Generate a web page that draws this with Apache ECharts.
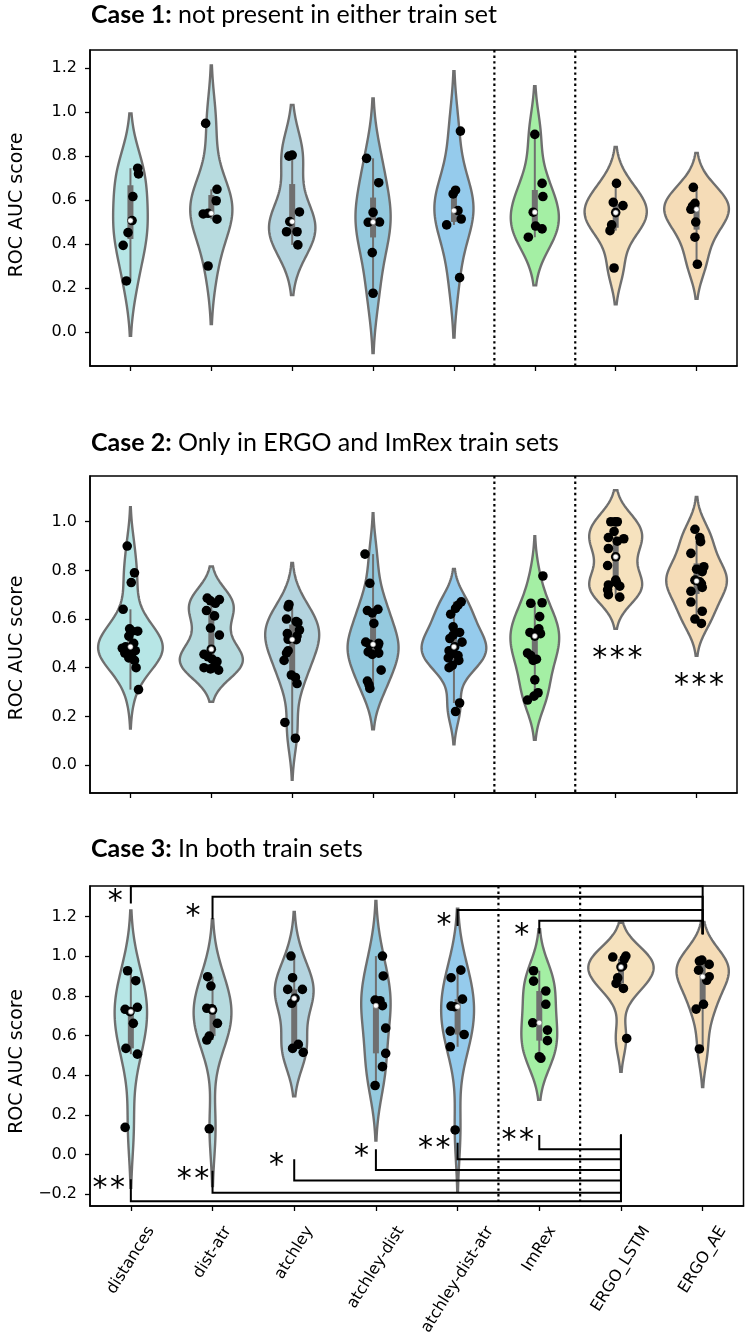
<!DOCTYPE html>
<html><head><meta charset="utf-8">
<script src="https://cdn.jsdelivr.net/npm/echarts@6/dist/echarts.min.js"></script>
<style>html,body{margin:0;padding:0;background:#fff}#c{width:748px;height:1339px}</style>
</head><body><div id="c"></div>
<script>
// ---------------- data ----------------
const categories = ['distances','dist-atr','atchley','atchley-dist','atchley-dist-atr','ImRex','ERGO_LSTM','ERGO_AE'];

const titlesBold = ['Case 1:','Case 2:','Case 3:'];
const titlesRest = [' not present in either train set',' Only in ERGO and ImRex train sets',' In both train sets'];

const yTicks1 = [0.0,0.2,0.4,0.6,0.8,1.0,1.2];
const yTicks2 = [0.0,0.2,0.4,0.6,0.8,1.0];
const yTicks3 = [-0.2,0.0,0.2,0.4,0.6,0.8,1.0,1.2];

// Case 1 scores (per category) and horizontal jitter (fraction of category band)
const case1Scores = [
  [0.745,0.719,0.616,0.507,0.452,0.394,0.232],
  [0.949,0.649,0.597,0.540,0.537,0.513,0.300],
  [0.805,0.800,0.546,0.502,0.456,0.456,0.396],
  [0.790,0.679,0.544,0.500,0.499,0.361,0.176],
  [0.914,0.645,0.628,0.552,0.514,0.487,0.247],
  [0.899,0.676,0.616,0.545,0.482,0.469,0.431],
  [0.676,0.590,0.575,0.543,0.487,0.461,0.291],
  [0.658,0.585,0.572,0.558,0.500,0.431,0.308]
];
const case1Jitter = [
  [0.09,0.10,0.03,0.02,-0.03,-0.09,-0.05],
  [-0.07,0.07,0.06,-0.04,-0.10,0.07,-0.04],
  [0.00,-0.04,0.09,-0.03,-0.07,0.06,0.07],
  [-0.08,0.07,0.00,0.08,-0.06,-0.01,0.00],
  [0.08,0.02,-0.01,0.05,0.09,-0.09,0.07],
  [0.00,0.09,0.10,-0.02,0.01,0.09,-0.08],
  [0.01,-0.03,0.09,0.00,-0.05,-0.07,-0.02],
  [-0.04,-0.02,-0.05,-0.07,-0.01,-0.02,0.01]
];

const case2Scores = [
  [0.90,0.79,0.75,0.64,0.56,0.55,0.55,0.53,0.50,0.486,0.48,0.47,0.47,0.46,0.45,0.44,0.43,0.40,0.31],
  [0.686,0.68,0.675,0.665,0.635,0.613,0.563,0.534,0.476,0.455,0.445,0.435,0.425,0.41,0.40,0.395,0.39],
  [0.66,0.65,0.60,0.59,0.585,0.555,0.54,0.53,0.517,0.515,0.47,0.46,0.43,0.37,0.36,0.335,0.175,0.11],
  [0.867,0.747,0.64,0.635,0.625,0.582,0.505,0.50,0.496,0.49,0.465,0.46,0.455,0.39,0.345,0.33,0.315],
  [0.671,0.657,0.644,0.62,0.568,0.545,0.534,0.52,0.505,0.486,0.47,0.46,0.45,0.44,0.43,0.41,0.40,0.255,0.22],
  [0.777,0.667,0.665,0.61,0.56,0.555,0.545,0.54,0.53,0.46,0.45,0.435,0.43,0.35,0.297,0.283,0.267],
  [1.0,1.0,1.0,0.96,0.935,0.93,0.92,0.89,0.856,0.82,0.76,0.75,0.74,0.735,0.72,0.70,0.69],
  [0.969,0.935,0.918,0.87,0.815,0.805,0.795,0.76,0.753,0.745,0.73,0.714,0.67,0.632,0.60,0.582]
];
const case2Jitter = [
  [-0.04,0.05,0.01,-0.09,-0.01,0.09,0.02,-0.02,0.04,-0.06,-0.10,-0.04,0.06,-0.07,0.01,-0.02,0.05,0.07,0.10],
  [-0.05,0.10,-0.01,0.05,-0.06,0.04,-0.01,0.10,0.00,-0.09,-0.04,0.01,0.07,0.05,-0.09,-0.01,0.09],
  [-0.04,-0.05,-0.07,0.05,0.07,0.09,-0.06,0.06,-0.05,0.05,-0.05,-0.07,-0.10,-0.01,0.04,0.06,-0.09,0.04],
  [-0.10,-0.04,0.06,-0.07,-0.01,0.01,-0.09,0.07,-0.04,0.06,-0.06,0.07,-0.01,0.10,-0.07,-0.05,-0.04],
  [0.09,0.05,0.02,-0.04,-0.01,0.07,-0.01,-0.05,0.10,0.01,-0.06,-0.01,0.05,-0.07,0.06,-0.02,-0.06,0.07,0.02],
  [0.10,0.09,-0.05,0.06,0.05,0.04,-0.06,0.07,0.00,-0.09,-0.05,0.02,-0.02,0.00,0.04,-0.01,-0.09],
  [-0.06,-0.01,0.02,-0.02,-0.09,0.10,0.02,-0.09,0.00,-0.10,0.00,0.01,-0.09,0.05,-0.10,-0.09,0.05],
  [-0.02,0.04,0.05,-0.07,0.09,0.00,0.07,-0.02,0.04,0.06,0.07,-0.07,-0.07,0.07,-0.02,0.06]
];

const case3Scores = [
  [0.926,0.876,0.742,0.732,0.720,0.661,0.535,0.506,0.137],
  [0.896,0.849,0.737,0.735,0.728,0.661,0.597,0.577,0.130],
  [1.000,0.891,0.832,0.832,0.787,0.762,0.555,0.535,0.515],
  [1.000,0.900,0.778,0.775,0.750,0.637,0.510,0.443,0.348],
  [0.929,0.891,0.783,0.748,0.745,0.622,0.605,0.543,0.124],
  [0.926,0.874,0.824,0.757,0.664,0.627,0.574,0.493,0.485],
  [1.000,0.995,0.985,0.950,0.945,0.890,0.862,0.837,0.585],
  [0.980,0.975,0.958,0.929,0.896,0.878,0.757,0.733,0.532]
];
const case3Jitter = [
  [-0.04,0.06,0.08,-0.07,-0.01,0.03,-0.06,0.08,-0.07],
  [-0.06,-0.02,-0.07,-0.01,0.00,0.06,-0.04,-0.07,-0.04],
  [-0.04,-0.02,-0.08,0.10,0.01,-0.03,0.05,-0.02,0.11],
  [0.08,0.09,-0.01,0.05,0.08,0.12,0.12,0.08,-0.01],
  [0.04,-0.08,0.06,-0.08,-0.04,-0.09,0.08,-0.09,-0.03],
  [-0.07,-0.07,0.08,0.08,-0.08,0.10,0.10,0.00,0.02],
  [0.06,-0.10,0.04,0.02,0.00,-0.04,-0.06,0.03,0.07],
  [-0.01,-0.04,0.08,-0.05,0.08,0.05,0.01,-0.08,-0.04]
];

// significance brackets: [leftCategory, rightCategory, barValue, leftTipValue, rightTipValue]
const case3BracketsTop = [
  [0,7,1.352,1.265,1.110],
  [1,7,1.299,1.185,1.110],
  [4,7,1.232,1.151,1.110],
  [5,7,1.178,1.114,1.110]
];
const case3BracketsBottom = [
  [0,6,-0.235,-0.124,0.100],
  [1,6,-0.192,-0.081,0.100],
  [2,6,-0.131,-0.024,0.100],
  [3,6,-0.078,0.027,0.100],
  [4,6,-0.024,0.060,0.100],
  [5,6,0.027,0.099,0.100]
];
// star annotations: [category, offset (fraction of band), value, text]
const case2Stars = [[6,0.02,0.466,'***'],[7,0.03,0.356,'***']];
const case3Stars = [
  [0,-0.19,1.307,'*'],[1,-0.24,1.232,'*'],[4,-0.165,1.190,'*'],[5,-0.215,1.140,'*'],
  [0,-0.27,-0.136,'**'],[1,-0.24,-0.091,'**'],[2,-0.216,-0.019,'*'],[3,-0.177,0.023,'*'],
  [4,-0.286,0.065,'**'],[5,-0.263,0.107,'**']
];

// ---------------- styles / layout ----------------
const baseColors = ['#AFEEEE','#B0E0E6','#ADD8E6','#87CEEB','#87CEFA','#98FB98','#FFE4B5','#FFDEAD'];
const gridBoxes = [
  {left:85, top:50, width:652, height:316},
  {left:85, top:476, width:652, height:317},
  {left:84.5, top:886, width:659, height:320}
];
const yRanges = [[-0.155,1.283],[-0.115,1.188],[-0.259,1.353]];
const titleTops = [0, 428, 834];
const titleSizes = [25, 25, 25];
const namePads = [[0,0,0,6],[0,27,0,0],[0,31,0,0]];

function rgb2hls(r,g,b){const mx=Math.max(r,g,b),mn=Math.min(r,g,b);const l=(mx+mn)/2;let h=0,s=0;
  if(mx!==mn){const d=mx-mn;s=l>0.5?d/(2-mx-mn):d/(mx+mn);
    if(mx===r)h=((g-b)/d)/6;else if(mx===g)h=((b-r)/d+2)/6;else h=((r-g)/d+4)/6;if(h<0)h+=1;}
  return [h,l,s];}
function hls2rgb(h,l,s){if(s===0)return[l,l,l];const q=l<0.5?l*(1+s):l+s-l*s,p=2*l-q;
  const f=t=>{if(t<0)t+=1;if(t>1)t-=1;if(t<1/6)return p+(q-p)*6*t;if(t<1/2)return q;if(t<2/3)return p+(q-p)*(2/3-t)*6;return p;};
  return [f(h+1/3),f(h),f(h-1/3)];}
function toHex(c){return '#'+c.map(v=>Math.round(v*255).toString(16).padStart(2,'0')).join('');}
const hlsList = baseColors.map(hx=>rgb2hls(parseInt(hx.slice(1,3),16)/255,parseInt(hx.slice(3,5),16)/255,parseInt(hx.slice(5,7),16)/255));
const fillColors = hlsList.map(([h,l,s])=>toHex(hls2rgb(h,l,s*0.75)));
const grayLum = Math.min(...hlsList.map(x=>x[1]))*0.6;
const gray = toHex([grayLum,grayLum,grayLum]);

// ---------------- stats ----------------
function percentile(sorted,p){const idx=(sorted.length-1)*p;const lo=Math.floor(idx),hi=Math.ceil(idx);return sorted[lo]+(sorted[hi]-sorted[lo])*(idx-lo);}
function kde(vals){
  const n=vals.length;const mean=vals.reduce((a,b)=>a+b,0)/n;
  const sd=Math.sqrt(vals.reduce((a,b)=>a+(b-mean)*(b-mean),0)/(n-1));
  const bw=sd*Math.pow(n,-0.2);
  const lo=Math.min(...vals)-2*bw,hi=Math.max(...vals)+2*bw;
  const sup=[],dens=[];
  for(let i=0;i<100;i++){const y=lo+(hi-lo)*i/99;let d=0;for(const v of vals){const z=(y-v)/bw;d+=Math.exp(-0.5*z*z);}
    sup.push(y);dens.push(d/(n*bw*Math.sqrt(2*Math.PI)));}
  return {sup,dens};
}
function boxStats(vals){
  const s=[...vals].sort((a,b)=>a-b);
  const q25=percentile(s,0.25),q50=percentile(s,0.5),q75=percentile(s,0.75);
  const lim=1.5*(q75-q25);
  const h1=Math.min(...s.filter(v=>v>=q25-lim)),h2=Math.max(...s.filter(v=>v<=q75+lim));
  return [q25,q50,q75,h1,h2];
}

const allScores=[case1Scores,case2Scores,case3Scores];
const allJitter=[case1Jitter,case2Jitter,case3Jitter];
const kdes=allScores.map(p=>p.map(kde));
const maxD=kdes.map(p=>Math.max(...p.map(k=>Math.max(...k.dens))));
const boxes=allScores.map(p=>p.map(boxStats));

const mctx=document.createElement('canvas').getContext('2d');
function textW(t,font){mctx.font=font;return mctx.measureText(t).width;}

// ---------------- render helpers ----------------
function violinRender(pi){
  return function(params,api){
    const k=api.value(0);const kd=kdes[pi][k];
    const bw=api.size([1,0])[0];const cx=api.coord([k,0])[0];
    const right=[],left=[];
    for(let i=0;i<kd.sup.length;i++){const y=api.coord([k,kd.sup[i]])[1];const w=kd.dens[i]/maxD[pi]*0.4*bw;right.push([cx+w,y]);left.unshift([cx-w,y]);}
    return {type:'polygon',shape:{points:right.concat(left)},style:{fill:fillColors[k],stroke:gray,lineWidth:2.4}};
  };
}
function boxRender(pi){
  return function(params,api){
    const k=api.value(0);const [q25,q50,q75,h1,h2]=boxes[pi][k];
    const cx=api.coord([k,0])[0];
    return {type:'group',children:[
      {type:'line',shape:{x1:cx,y1:api.coord([k,h1])[1],x2:cx,y2:api.coord([k,h2])[1]},style:{stroke:gray,lineWidth:2}},
      {type:'line',shape:{x1:cx,y1:api.coord([k,q25])[1],x2:cx,y2:api.coord([k,q75])[1]},style:{stroke:gray,lineWidth:6}}
    ]};
  };
}
function medianRender(pi){
  return function(params,api){
    const k=api.value(0);const q50=boxes[pi][k][1];const p=api.coord([k,q50]);
    return {type:'circle',shape:{cx:p[0],cy:p[1],r:2.6},style:{fill:'#fff',stroke:gray,lineWidth:0.6}};
  };
}
function pointRender(params,api){
  const k=api.value(0),v=api.value(1),j=api.value(2);
  const bw=api.size([1,0])[0];const p=api.coord([k,v]);
  return {type:'circle',shape:{cx:p[0]+j*bw,cy:p[1],r:4.8},style:{fill:'#000'}};
}
function sepRender(params,api){
  const cs=params.coordSys;const bw=api.size([1,0])[0];
  const xs=[api.coord([4,0])[0]+bw/2,api.coord([5,0])[0]+bw/2];
  return {type:'group',children:xs.map(x=>({type:'line',shape:{x1:x,y1:cs.y,x2:x,y2:cs.y+cs.height},style:{stroke:'#000',lineWidth:2.2,lineDash:[2.4,3.2]}}))};
}
function bracketRender(params,api){
  const l=api.value(0),r=api.value(1),h=api.value(2),lt=api.value(3),rt=api.value(4);
  const pts=[api.coord([l,lt]),api.coord([l,h]),api.coord([r,h]),api.coord([r,rt])];
  return {type:'polyline',shape:{points:pts},style:{stroke:'#000',lineWidth:2,fill:null}};
}
function starRender(list){
  return function(params,api){
    const it=list[params.dataIndex];
    const bw=api.size([1,0])[0];const p=api.coord([it[0],it[2]]);
    const n=it[3].length;const fs=30;const sp=17.6;
    const children=[];
    for(let i=0;i<n;i++){
      children.push({type:'text',x:p[0]+it[1]*bw+(i-(n-1)/2)*sp,y:p[1]+0.25*fs,
        style:{text:'*',fill:'#000',fontSize:fs,fontFamily:'DejaVu Sans',align:'center',verticalAlign:'middle',textAlign:'center',textVerticalAlign:'middle'}});
    }
    return {type:'group',children};
  };
}
const xLabFont='16px "DejaVu Sans"';
function xLabelRender(params,api){
  const k=api.value(0);const cs=params.coordSys;
  const cx=api.coord([k,0])[0];const bottom=cs.y+cs.height;
  const th=58*Math.PI/180;const L=textW(categories[k],xLabFont);const H=16*1.15;
  const h=L*Math.sin(th)+H*Math.cos(th);
  return {type:'text',x:cx,y:bottom+17+h/2,rotation:th,
    style:{text:categories[k],fill:'#000',fontSize:16,fontFamily:'DejaVu Sans',align:'center',verticalAlign:'middle',textAlign:'center',textVerticalAlign:'middle'}};
}

// ---------------- option ----------------
const yTickSets=[yTicks1,yTicks2,yTicks3];
const fmt=v=>(v<-1e-9?'\u2212':'')+Math.abs(v).toFixed(1);
const series=[];
for(let pi=0;pi<3;pi++){
  const catData=categories.map((c,k)=>[k,0]);
  const common={xAxisIndex:pi,yAxisIndex:pi,silent:true,encode:{x:0,y:1}};
  series.push({type:'custom',...common,data:catData,renderItem:violinRender(pi),z:2});
  series.push({type:'custom',...common,data:catData,renderItem:boxRender(pi),z:3});
  const pts=[];allScores[pi].forEach((arr,k)=>arr.forEach((v,i)=>pts.push([k,v,allJitter[pi][k][i]])));
  series.push({type:'custom',...common,data:pts,renderItem:pointRender,z:4});
  series.push({type:'custom',...common,data:catData,renderItem:medianRender(pi),z:5});
  series.push({type:'custom',...common,data:[[0,0]],renderItem:sepRender,z:6});
}
series.push({type:'custom',xAxisIndex:1,yAxisIndex:1,silent:true,encode:{x:0,y:2},data:case2Stars.map(s=>[s[0],s[1],s[2]]),renderItem:starRender(case2Stars),z:7});
series.push({type:'custom',xAxisIndex:2,yAxisIndex:2,silent:true,encode:{x:0,y:2},data:case3BracketsTop.concat(case3BracketsBottom),renderItem:bracketRender,z:7});
series.push({type:'custom',xAxisIndex:2,yAxisIndex:2,silent:true,encode:{x:0,y:2},data:case3Stars.map(s=>[s[0],s[1],s[2]]),renderItem:starRender(case3Stars),z:7});
series.push({type:'custom',xAxisIndex:2,yAxisIndex:2,silent:true,encode:{x:0,y:1},data:categories.map((c,k)=>[k,0]),renderItem:xLabelRender,z:7});

const option={
  animation:false,
  backgroundColor:'#fff',
  title:[0,1,2].map(i=>({left:91,top:titleTops[i],padding:0,
    text:'{b|'+titlesBold[i]+'}{n|'+titlesRest[i]+'}',
    textStyle:{rich:{b:{fontFamily:'Lato',fontWeight:'bold',fontSize:titleSizes[i],color:'#000',lineHeight:30},
                     n:{fontFamily:'Lato',fontWeight:'normal',fontSize:titleSizes[i],color:'#000',lineHeight:30}}}})),
  grid:gridBoxes.map(g=>({...g,show:true,borderColor:'#000',borderWidth:1.5,backgroundColor:'transparent'})),
  xAxis:[0,1,2].map(i=>({type:'category',gridIndex:i,data:categories,boundaryGap:true,
    axisLine:{show:true,onZero:false,lineStyle:{color:'#000',width:1.5}},
    axisTick:{show:true,alignWithLabel:true,interval:0,length:5,lineStyle:{color:'#000',width:1.3}},
    axisLabel:{show:false},splitLine:{show:false}})),
  yAxis:[0,1,2].map(i=>({type:'value',gridIndex:i,min:yRanges[i][0],max:yRanges[i][1],
    name:'ROC AUC score',nameLocation:'middle',nameGap:63,
    nameTextStyle:{fontFamily:'DejaVu Sans',fontSize:19,color:'#000',padding:namePads[i]},
    axisLine:{show:true,lineStyle:{color:'#000',width:1.5}},
    axisTick:{show:true,length:5,customValues:yTickSets[i],lineStyle:{color:'#000',width:1.3}},
    axisLabel:{show:true,customValues:yTickSets[i],formatter:fmt,margin:13,fontFamily:'DejaVu Sans',fontSize:16,color:'#000'},
    splitLine:{show:false}})),
  series
};
const chart=echarts.init(document.getElementById('c'),null,{renderer:'canvas'});
chart.setOption(option);
</script>
</body></html>
